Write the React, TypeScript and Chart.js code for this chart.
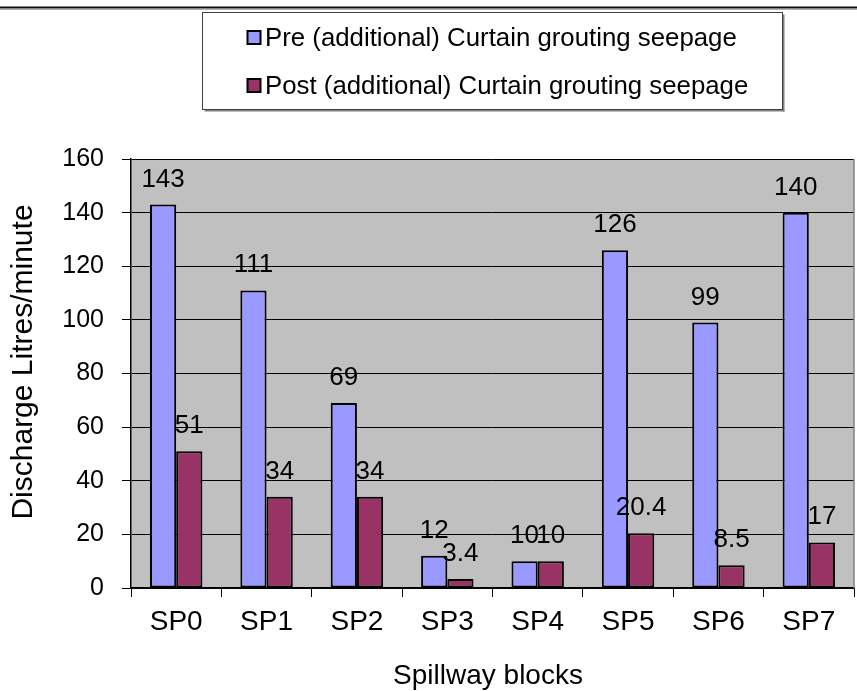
import React, { useEffect, useRef } from "react";
import { Chart, registerables } from "chart.js";

Chart.register(...registerables);

const categories = ["SP0", "SP1", "SP2", "SP3", "SP4", "SP5", "SP6", "SP7"];
const preSeepage = [143, 111, 69, 12, 10, 126, 99, 140];
const postSeepage = [51, 34, 34, 3.4, 10, 20.4, 8.5, 17];
const seriesLabels = [
  "Pre (additional) Curtain grouting seepage",
  "Post (additional) Curtain grouting seepage",
];
const seriesColors = ["#9999FF", "#993366"];
const yMin = 0;
const yMax = 160;
const yStep = 20;
const xTitle = "Spillway blocks";
const yTitle = "Discharge Litres/minute";

const W = 857;
const H = 691;
const FONT = "'Liberation Sans', Arial, sans-serif";

const bgPlugin = {
  id: "bgPlugin",
  beforeDraw(chart: any) {
    const { ctx, chartArea } = chart;
    ctx.save();
    ctx.fillStyle = "#ffffff";
    ctx.fillRect(0, 0, W, H);
    // top rule
    ctx.fillStyle = "#111111";
    ctx.fillRect(0, 6.5, W, 2);
    ctx.fillStyle = "#b0b0b0";
    ctx.fillRect(0, 9, W, 1);
    // plot area
    ctx.fillStyle = "#C0C0C0";
    ctx.fillRect(chartArea.left, chartArea.top, chartArea.right - chartArea.left, chartArea.bottom - chartArea.top);
    ctx.restore();
  },
  afterDraw(chart: any) {
    const { ctx, chartArea } = chart;
    ctx.save();
    ctx.strokeStyle = "#808080";
    ctx.lineWidth = 1.5;
    ctx.beginPath();
    ctx.moveTo(chartArea.right, chartArea.top);
    ctx.lineTo(chartArea.right, chartArea.bottom);
    ctx.stroke();
    // axis titles
    ctx.fillStyle = "#000";
    ctx.font = `28px ${FONT}`;
    ctx.textAlign = "center";
    ctx.textBaseline = "middle";
    ctx.fillText(xTitle, 488, 676);
    ctx.save();
    ctx.translate(24, 362);
    ctx.rotate(-Math.PI / 2);
    ctx.font = `30px ${FONT}`;
    ctx.fillText(yTitle, 0, 0);
    ctx.restore();
    ctx.restore();
  },
};

const labelPlugin = {
  id: "labelPlugin",
  afterDatasetsDraw(chart: any) {
    const { ctx } = chart;
    ctx.save();
    ctx.font = `26px ${FONT}`;
    ctx.fillStyle = "#000";
    ctx.textAlign = "center";
    ctx.textBaseline = "alphabetic";
    chart.data.datasets.forEach((ds: any, i: number) => {
      const meta = chart.getDatasetMeta(i);
      meta.data.forEach((el: any, j: number) => {
        ctx.fillText(String(ds.data[j]), el.x, el.y - 18);
      });
    });
    ctx.restore();
  },
};

const legendPlugin = {
  id: "legendPlugin",
  afterDraw(chart: any) {
    const { ctx } = chart;
    const bx = 202.5, by = 12.5, bw = 580, bh = 97;
    ctx.save();
    // shadow
    ctx.fillStyle = "#808080";
    ctx.fillRect(bx + 2, by + bh, bw, 2);
    ctx.fillRect(bx + bw, by + 2, 2, bh);
    ctx.fillStyle = "#ffffff";
    ctx.fillRect(bx, by, bw, bh);
    ctx.strokeStyle = "#404040";
    ctx.lineWidth = 1;
    ctx.strokeRect(bx, by, bw, bh);
    ctx.font = `25.8px ${FONT}`;
    ctx.textBaseline = "middle";
    ctx.textAlign = "left";
    const rows = [38, 86];
    chart.data.datasets.forEach((ds: any, i: number) => {
      const cy = rows[i];
      ctx.fillStyle = ds.backgroundColor;
      ctx.fillRect(247.5, cy - 7, 13, 13);
      ctx.strokeStyle = "#000";
      ctx.lineWidth = 2;
      ctx.strokeRect(247.5, cy - 7, 13, 13);
      ctx.fillStyle = "#000";
      ctx.fillText(ds.label, 265, cy + 1);
    });
    ctx.restore();
  },
};

export default function App() {
  const ref = useRef<HTMLCanvasElement | null>(null);
  useEffect(() => {
    if (!ref.current) return;
    const common = {
      borderColor: "#000",
      borderWidth: 2,
      borderSkipped: false,
      categoryPercentage: 0.58,
      barPercentage: 1,
    };
    const chart = new Chart(ref.current, {
      type: "bar",
      data: {
        labels: categories,
        datasets: [
          { label: seriesLabels[0], data: preSeepage, backgroundColor: seriesColors[0], ...common },
          { label: seriesLabels[1], data: postSeepage, backgroundColor: seriesColors[1], ...common },
        ],
      },
      options: {
        responsive: false,
        animation: false,
        devicePixelRatio: 1,
        layout: { padding: { top: 159, right: 3, bottom: 0, left: 0 } },
        plugins: {
          legend: { display: false },
          tooltip: { enabled: false },
          title: { display: false },
        },
        scales: {
          x: {
            type: "category",
            offset: true,
            grid: {
              drawOnChartArea: false,
              drawTicks: true,
              tickLength: 9,
              color: "#000",
              offset: true,
            },
            border: { color: "#000", width: 1.5 },
            ticks: { font: { family: FONT, size: 28 }, color: "#000", padding: 8 },
            title: { display: false },
            afterFit: (s: any) => {
              s.height = H - 588;
            },
          },
          y: {
            min: yMin,
            max: yMax,
            ticks: {
              stepSize: yStep,
              font: { family: FONT, size: 25 },
              color: "#000",
              padding: 18,
            },
            grid: { color: "#000", lineWidth: 1, tickLength: 9, drawTicks: true },
            border: { color: "#000", width: 1.5 },
            title: { display: false },
            afterFit: (s: any) => {
              s.width = 131;
            },
          },
        },
      },
      plugins: [bgPlugin, labelPlugin, legendPlugin],
    });
    return () => chart.destroy();
  }, []);
  return (
    <div style={{ position: "absolute", left: 0, top: 0, width: W, height: H }}>
      <canvas ref={ref} width={W} height={H} style={{ display: "block" }} />
    </div>
  );
}
